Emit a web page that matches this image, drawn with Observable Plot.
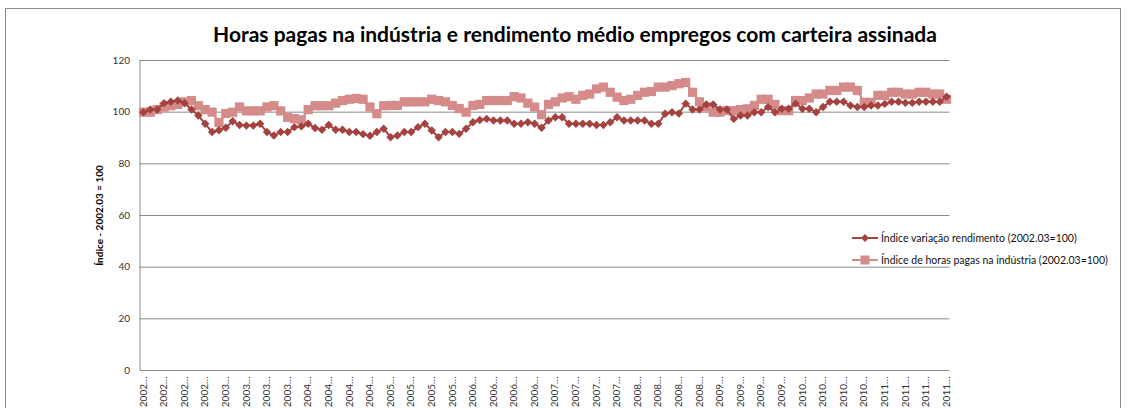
<!DOCTYPE html>
<html><head><meta charset="utf-8">
<script src="https://cdn.jsdelivr.net/npm/d3@7"></script>
<script src="https://cdn.jsdelivr.net/npm/@observablehq/plot@0.6"></script>
<style>
body{margin:0;background:#fff;font-family:Lato,sans-serif;}
#wrap{position:relative;width:1128px;height:408px;overflow:hidden;background:#fff;}
#border{position:absolute;left:5px;top:8px;width:1116px;height:420px;border:1px solid #8c8c8c;box-sizing:border-box;}
#title{position:absolute;left:0;width:1150px;top:21px;text-align:center;font-weight:bold;font-size:21px;color:#000;font-family:Lato,sans-serif;}
#chart{position:absolute;left:0;top:50px;}
#legend{position:absolute;left:852px;top:227px;font-size:10.5px;color:#111;font-family:Lato,sans-serif;}
#legend .row{display:flex;align-items:center;height:22px;}
#legend svg{margin-right:3px;}
svg g[aria-label="y-axis label"] text{font-weight:bold;fill:#000;}
</style></head>
<body>
<div id="wrap">
<div id="border"></div>
<div id="title">Horas pagas na indústria e rendimento médio empregos com carteira assinada</div>
<div id="chart"></div>
<div id="legend"></div>
</div>
<script>
// categories: monthly 2002.03 .. 2011.12
const months = [];
for (let y = 2002; y <= 2011; y++) for (let m = 1; m <= 12; m++) {
  if (y === 2002 && m < 3) continue;
  months.push(`${y}.${String(m).padStart(2, "0")}`);
}
const tickMonths = months.filter((m, i) => i % 3 === 0);
const yTicks = [0, 20, 40, 60, 80, 100, 120];
const seriesNames = ["Índice variação rendimento (2002.03=100)", "Índice de horas pagas na indústria (2002.03=100)"];

const rendimento = [
100,101,101,103.5,104,104.5,103.5,101,98.7,95.5,92.3,93,
94,96.5,95,94.8,94.8,95.5,92.3,91,92.3,92.3,94.2,94.5,
95.5,93.9,93.2,95,93.2,93.2,92.3,92.3,91.5,90.9,92.3,93.6,
90.3,91,92.3,92.3,94.2,95.5,92.9,90.3,92.3,92.3,91.6,93.6,
96.1,97,97.4,96.8,96.8,96.8,95.5,95.5,96.1,95.5,94,96.8,
98,98,95.5,95.5,95.5,95.5,95,95,96.1,98,96.8,96.8,
96.8,96.8,95.5,95.5,99.4,100,99.5,103.3,101,101,103,103,
101,101,97.4,98.7,98.7,100,100,102,100,101.3,101.3,103.3,
101.3,101.3,100,102,104,104,104,102.6,102,102,102.6,102.6,
103.2,104,104,103.6,103.6,104,104,104,104,106];

const horas = [
100,100,101,102,102.5,103,104,104.5,102.5,101,100,96,
99.5,100,102,100.5,100.5,100.5,102,102.5,100.5,98,97.5,97,
101,102.5,102.5,102.5,103.5,104.5,105,105.3,105,102,99.4,102.5,
102.6,102.6,104,104,104,104,105,104.5,104,102.6,101.4,100,
102.6,103,104.5,104.5,104.5,104.5,106,105.5,103.5,102,99,103,
104,105.5,106,105,106.5,107,109,109.7,107.7,105.8,104.5,105,
106.5,107.7,108,109.7,109.7,110.3,111,111.5,107.7,104,102,100,
100,100.6,100.6,101,101.3,102.6,105,105,103,100.6,100.6,104.5,
104.5,105.5,107,107,108.4,108.4,109.7,109.7,108.4,103.8,103.8,106.5,
106.5,107.7,107.7,107,107,107.7,107.7,107,107,105];

const cR = "#A4423F", cH = "#D48B89";
const data = months.map((m, i) => ({i, m, rend: rendimento[i], horas: horas[i]}));
const tickIdx = tickMonths.map(t => months.indexOf(t));

const chart = Plot.plot({
  width: 1128, height: 358,
  marginLeft: 139.5, marginRight: 178.5, marginTop: 10, marginBottom: 38,
  style: {fontFamily: "Lato, sans-serif", fontSize: "10px", color: "#333", background: "transparent"},
  x: {type: "linear", domain: [-0.5, months.length - 0.5]},
  y: {domain: [0, 120]},
  marks: [
    Plot.gridY({ticks: yTicks, stroke: "#8a8a8a", strokeOpacity: 1}),
    Plot.ruleX([-0.5], {y1: 0, y2: 120, stroke: "#8a8a8a"}),
    Plot.axisY({ticks: yTicks, tickSize: 0, tickPadding: 10, label: "Índice - 2002.03 = 100", labelArrow: "none", labelAnchor: "center", labelOffset: 44}),
    Plot.axisX({ticks: tickIdx, tickFormat: i => months[i].slice(0, 4) + "…", tickRotate: -90, tickSize: 0, tickPadding: 6, label: null}),
    Plot.line(data, {x: "i", y: "horas", stroke: cH, strokeWidth: 2}),
    Plot.dot(data, {x: "i", y: "horas", symbol: "square", r: 5.2, fill: cH}),
    Plot.line(data, {x: "i", y: "rend", stroke: cR, strokeWidth: 2}),
    Plot.dot(data, {x: "i", y: "rend", symbol: "diamond2", r: 3.8, fill: cR})
  ]
});
document.getElementById("chart").appendChild(chart);

const leg = document.getElementById("legend");
const sw = [
  `<svg width="26" height="12"><line x1="0" y1="6" x2="26" y2="6" stroke="${cR}" stroke-width="2"/><path d="M13,2 L17,6 L13,10 L9,6Z" fill="${cR}"/></svg>`,
  `<svg width="26" height="12"><line x1="0" y1="6" x2="26" y2="6" stroke="${cH}" stroke-width="2"/><rect x="8.5" y="1.5" width="9" height="9" fill="${cH}"/></svg>`
];
seriesNames.forEach((n, k) => {
  const r = document.createElement("div");
  r.className = "row";
  r.innerHTML = sw[k] + `<span>${n}</span>`;
  leg.appendChild(r);
});
</script>
</body></html>
